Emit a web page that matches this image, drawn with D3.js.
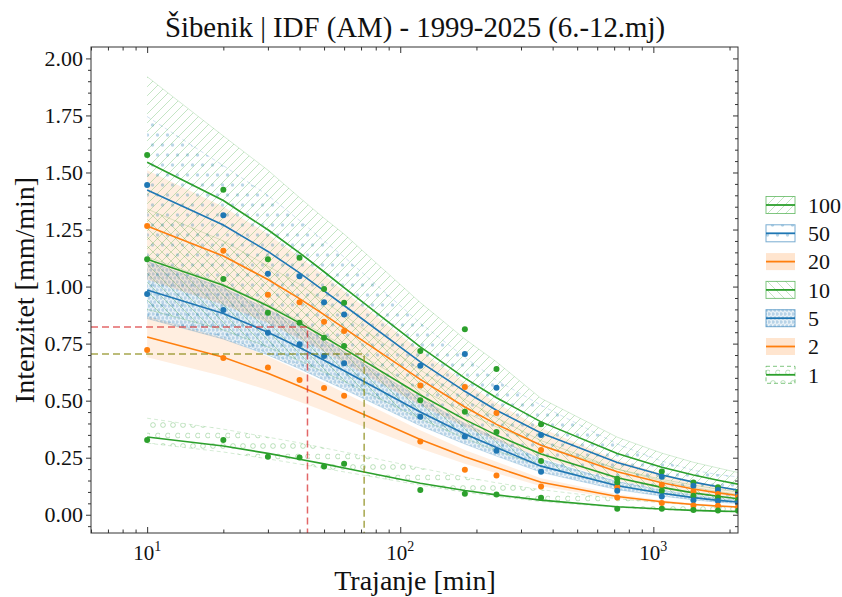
<!DOCTYPE html>
<html><head><meta charset="utf-8">
<script src="https://cdn.jsdelivr.net/npm/d3@7"></script>
<style>body{margin:0;background:#fff} svg{font-family:"Liberation Serif","Times New Roman",serif}</style>
</head><body><svg id="c" width="842" height="597"></svg>
<script>
const durations=[10,20,30,40,50,60,120,180,240,360,720,1080,1440,1800,2160];
const returnPeriods=[100,50,20,10,5,2,1];
const fit100=[1.545,1.377,1.249,1.148,1.065,0.995,0.736,0.599,0.513,0.407,0.268,0.208,0.174,0.151,0.134];
const fit50=[1.423,1.270,1.154,1.060,0.981,0.917,0.670,0.541,0.458,0.358,0.229,0.174,0.143,0.123,0.108];
const fit20=[1.265,1.134,1.031,0.947,0.877,0.818,0.593,0.472,0.396,0.305,0.188,0.140,0.113,0.096,0.084];
const fit10=[1.120,1.006,0.915,0.841,0.779,0.727,0.525,0.417,0.349,0.266,0.162,0.120,0.096,0.081,0.070];
const fit5=[0.985,0.882,0.800,0.733,0.677,0.631,0.450,0.354,0.295,0.213,0.127,0.094,0.075,0.063,0.056];
const fit2=[0.779,0.690,0.620,0.563,0.517,0.478,0.330,0.254,0.207,0.142,0.080,0.057,0.045,0.038,0.034];
const fit1=[0.341,0.301,0.269,0.243,0.223,0.205,0.138,0.106,0.087,0.064,0.035,0.025,0.019,0.016,0.014];
const up100=[1.92,1.66,1.51,1.39,1.30,1.23,0.93,0.77,0.67,0.51,0.34,0.27,0.23,0.205,0.185];
const lo100=[1.13,1.01,0.92,0.85,0.79,0.74,0.55,0.45,0.385,0.305,0.20,0.155,0.13,0.112,0.10];
const up50=[1.745,1.53,1.40,1.29,1.20,1.13,0.84,0.69,0.59,0.48,0.31,0.235,0.195,0.176,0.166];
const lo50=[0.87,0.78,0.71,0.66,0.61,0.575,0.43,0.35,0.30,0.235,0.145,0.11,0.09,0.078,0.068];
const up20=[1.51,1.35,1.23,1.13,1.05,0.98,0.72,0.58,0.49,0.38,0.24,0.18,0.147,0.126,0.11];
const lo20=[1.03,0.92,0.84,0.77,0.715,0.665,0.48,0.385,0.325,0.25,0.15,0.112,0.09,0.077,0.067];
const up10=[1.34,1.20,1.09,1.01,0.935,0.875,0.635,0.505,0.425,0.325,0.20,0.148,0.12,0.102,0.089];
const lo10=[0.90,0.81,0.735,0.675,0.625,0.585,0.42,0.335,0.28,0.213,0.13,0.096,0.077,0.065,0.056];
const up5=[1.11,0.995,0.90,0.83,0.765,0.715,0.51,0.40,0.335,0.243,0.145,0.107,0.085,0.072,0.064];
const lo5=[0.86,0.77,0.70,0.64,0.59,0.55,0.39,0.31,0.257,0.186,0.11,0.082,0.065,0.055,0.049];
const up2=[0.87,0.773,0.694,0.631,0.579,0.535,0.37,0.284,0.232,0.16,0.09,0.064,0.05,0.043,0.038];
const lo2=[0.69,0.607,0.546,0.495,0.455,0.42,0.29,0.224,0.182,0.125,0.07,0.05,0.04,0.034,0.030];
const up1=[0.423,0.375,0.34,0.315,0.293,0.275,0.205,0.165,0.14,0.11,0.07,0.053,0.044,0.038,0.034];
const lo1=[0.314,0.275,0.245,0.222,0.203,0.188,0.13,0.098,0.08,0.058,0.032,0.022,0.017,0.014,0.012];
const obs100=[1.577,1.424,1.12,1.126,0.989,0.929,0.718,0.813,0.639,0.397,0.158,0.19,0.141,0.121,0.099];
const obs50=[1.445,1.313,1.056,1.045,0.931,0.878,0.653,0.705,0.557,0.349,0.13,0.166,0.127,0.109,0.09];
const obs20=[1.265,1.157,0.964,0.931,0.846,0.805,0.566,0.56,0.446,0.284,0.12,0.131,0.102,0.091,0.078];
const obs10=[1.12,1.033,0.885,0.842,0.776,0.74,0.502,0.451,0.363,0.236,0.142,0.105,0.083,0.076,0.066];
const obs5=[0.967,0.897,0.798,0.747,0.696,0.664,0.43,0.343,0.28,0.188,0.105,0.08,0.064,0.06,0.052];
const obs2=[0.722,0.687,0.645,0.591,0.556,0.521,0.321,0.197,0.172,0.124,0.076,0.051,0.041,0.039,0.033];
const obs1=[0.328,0.328,0.254,0.251,0.211,0.223,0.109,0.092,0.089,0.074,0.026,0.026,0.021,0.019,0.017];
const yTicks=[0,0.25,0.5,0.75,1.0,1.25,1.5,1.75,2.0];
const xTicks=[10,100,1000];
const markRed={t:43,i:0.823};
const markOlive={t:72,i:0.705};
const titleText="Šibenik | IDF (AM) - 1999-2025 (6.-12.mj)";

const series={
 100:{fit:fit100,up:up100,lo:lo100,obs:obs100,color:"#2ca02c",hatch:"h100"},
 50:{fit:fit50,up:up50,lo:lo50,obs:obs50,color:"#1f77b4",hatch:"h50"},
 20:{fit:fit20,up:up20,lo:lo20,obs:obs20,color:"#ff7f0e",hatch:"fill"},
 10:{fit:fit10,up:up10,lo:lo10,obs:obs10,color:"#2ca02c",hatch:"h10"},
 5:{fit:fit5,up:up5,lo:lo5,obs:obs5,color:"#1f77b4",hatch:"h5"},
 2:{fit:fit2,up:up2,lo:lo2,obs:obs2,color:"#ff7f0e",hatch:"fill"},
 1:{fit:fit1,up:up1,lo:lo1,obs:obs1,color:"#2ca02c",hatch:"h1"}
};

const svg=d3.select("#c");
const L=91,R=738,T=47,B=533;
const x=d3.scaleLog().domain([6,2160]).range([L,R]);
const y=d3.scaleLinear().domain([-0.08,2.05]).range([B,T]);

const defs=svg.append("defs");
defs.append("clipPath").attr("id","clip").append("rect").attr("x",L).attr("y",T).attr("width",R-L).attr("height",B-T);
function pat(id,w,h){return defs.append("pattern").attr("id",id).attr("patternUnits","userSpaceOnUse").attr("width",w).attr("height",h);}
let p=pat("h100",9,9);
p.append("path").attr("d","M0,9L9,0M-3,3L3,-3M6,12L12,6").attr("stroke","#2ca02c").attr("stroke-opacity",0.28).attr("stroke-width",1);
p=pat("h10",9,9);
p.append("path").attr("d","M0,0L9,9M-3,6L3,12M6,-3L12,3").attr("stroke","#2ca02c").attr("stroke-opacity",0.28).attr("stroke-width",1);
p=pat("h50",10,20);
[[2.5,5],[7.5,15]].forEach(c=>p.append("circle").attr("cx",c[0]).attr("cy",c[1]).attr("r",1.7).attr("fill","#1f77b4").attr("fill-opacity",0.3));
p=pat("h5",4,8);
p.append("rect").attr("width",4).attr("height",8).attr("fill","#1f77b4").attr("fill-opacity",0.1);
[[1,2],[3,6]].forEach(c=>p.append("circle").attr("cx",c[0]).attr("cy",c[1]).attr("r",1.2).attr("fill","none").attr("stroke","#1f77b4").attr("stroke-opacity",0.4).attr("stroke-width",0.8));
p=pat("h1",10,21);
[[3,5],[8,15.5]].forEach(c=>p.append("circle").attr("cx",c[0]).attr("cy",c[1]).attr("r",2.4).attr("fill","none").attr("stroke","#2ca02c").attr("stroke-opacity",0.35).attr("stroke-width",0.9));

const plot=svg.append("g").attr("clip-path","url(#clip)");
const area=d3.area().x((d,i)=>x(durations[i])).y0(d=>y(d[0])).y1(d=>y(d[1]));
const line=d3.line().x((d,i)=>x(durations[i])).y(d=>y(d));

[1,2,5,10,20,50,100].forEach(k=>{
  const s=series[k];
  const data=s.lo.map((v,i)=>[v,s.up[i]]);
  const path=plot.append("path").datum(data).attr("d",area);
  if(s.hatch==="fill"){path.attr("fill",s.color).attr("fill-opacity",0.13).attr("stroke","none");}
  else{
    path.attr("fill","url(#"+s.hatch+")");
    const dash=(k===1||k===50)?"4,3":null;
    plot.append("path").datum(s.up).attr("d",line).attr("fill","none").attr("stroke",s.color).attr("stroke-opacity",0.2).attr("stroke-width",1).attr("stroke-dasharray",dash);
    plot.append("path").datum(s.lo).attr("d",line).attr("fill","none").attr("stroke",s.color).attr("stroke-opacity",0.2).attr("stroke-width",1).attr("stroke-dasharray",dash);
  }
});
returnPeriods.forEach(k=>{
  const s=series[k];
  plot.append("path").datum(s.fit).attr("d",line).attr("fill","none").attr("stroke",s.color).attr("stroke-width",1.6);
});
returnPeriods.forEach(k=>{
  const s=series[k];
  plot.selectAll(null).data(s.obs).enter().append("circle")
   .attr("cx",(d,i)=>x(durations[i])).attr("cy",d=>y(d)).attr("r",3).attr("fill",s.color);
});
[[markRed,"#d62728"],[markOlive,"#808000"]].forEach(([m,c])=>{
  plot.append("path").attr("d",`M${L},${y(m.i)}H${x(m.t)}V${B}`).attr("fill","none").attr("stroke",c).attr("stroke-opacity",0.7).attr("stroke-width",1.5).attr("stroke-dasharray","7,4");
});

const minorX=[];
[1,10,100,1000].forEach(d=>{for(let m=2;m<=9;m++){const v=d*m;if(v>=6&&v<=2160)minorX.push(v);}});
const minorY=d3.range(-0.05,2.05,0.05).filter(v=>Math.abs(Math.round(v*4)-v*4)>1e-6);
function clean(g){g.select(".domain").remove();g.selectAll("line").attr("stroke","#333");}
svg.append("g").attr("transform",`translate(0,${B})`).call(d3.axisBottom(x).tickValues(xTicks).tickSize(-6).tickFormat("")).call(clean);
svg.append("g").attr("transform",`translate(0,${B})`).call(d3.axisBottom(x).tickValues(minorX).tickSize(-3.5).tickFormat("")).call(clean);
svg.append("g").attr("transform",`translate(0,${T})`).call(d3.axisTop(x).tickValues(xTicks).tickSize(-6).tickFormat("")).call(clean);
svg.append("g").attr("transform",`translate(0,${T})`).call(d3.axisTop(x).tickValues(minorX).tickSize(-3.5).tickFormat("")).call(clean);
const ly=svg.append("g").attr("transform",`translate(${L},0)`).call(d3.axisLeft(y).tickValues(yTicks).tickSize(5).tickPadding(3).tickFormat(d3.format(".2f"))).call(clean);
ly.selectAll("text").attr("font-size",22).attr("font-family","Liberation Serif").attr("fill","#111");
svg.append("g").attr("transform",`translate(${L},0)`).call(d3.axisLeft(y).tickValues(minorY).tickSize(3).tickFormat("")).call(clean);
svg.append("g").attr("transform",`translate(${R},0)`).call(d3.axisRight(y).tickValues(yTicks).tickSize(-5).tickFormat("")).call(clean);
svg.append("g").attr("transform",`translate(${R},0)`).call(d3.axisRight(y).tickValues(minorY).tickSize(-3).tickFormat("")).call(clean);
xTicks.forEach(v=>{
  const t=svg.append("text").attr("x",x(v)).attr("y",560).attr("text-anchor","middle").attr("font-size",21).attr("fill","#111");
  t.append("tspan").text("10");
  t.append("tspan").attr("font-size",14).attr("dy",-9).text(String(Math.round(Math.log10(v))));
});
svg.append("rect").attr("x",L).attr("y",T).attr("width",R-L).attr("height",B-T).attr("fill","none").attr("stroke","#333").attr("stroke-width",1);

svg.append("text").attr("x",415).attr("y",37).attr("text-anchor","middle").attr("font-size",28.8).attr("fill","#111").text(titleText);
svg.append("text").attr("x",415).attr("y",590).attr("text-anchor","middle").attr("font-size",28).attr("fill","#111").text("Trajanje [min]");
svg.append("text").attr("transform","translate(34,290) rotate(-90)").attr("text-anchor","middle").attr("font-size",28).attr("fill","#111").text("Intenzitet [mm/min]");

const lg=svg.append("g");
returnPeriods.forEach((k,i)=>{
  const s=series[k];
  const cy=205+i*28.3, lx=766, w=29, h=17;
  const r=lg.append("rect").attr("x",lx).attr("y",cy-h/2).attr("width",w).attr("height",h);
  if(s.hatch==="fill") r.attr("fill",s.color).attr("fill-opacity",0.2).attr("stroke","none");
  else r.attr("fill","url(#"+s.hatch+")").attr("stroke",s.color).attr("stroke-opacity",0.6).attr("stroke-width",1).attr("stroke-dasharray",k===1?"4,3":null);
  lg.append("line").attr("x1",lx).attr("x2",lx+w).attr("y1",cy).attr("y2",cy).attr("stroke",s.color).attr("stroke-width",1.8);
  lg.append("text").attr("x",808).attr("y",cy).attr("dy","0.35em").attr("font-size",22).attr("fill","#111").text(k);
});
</script></body></html>
